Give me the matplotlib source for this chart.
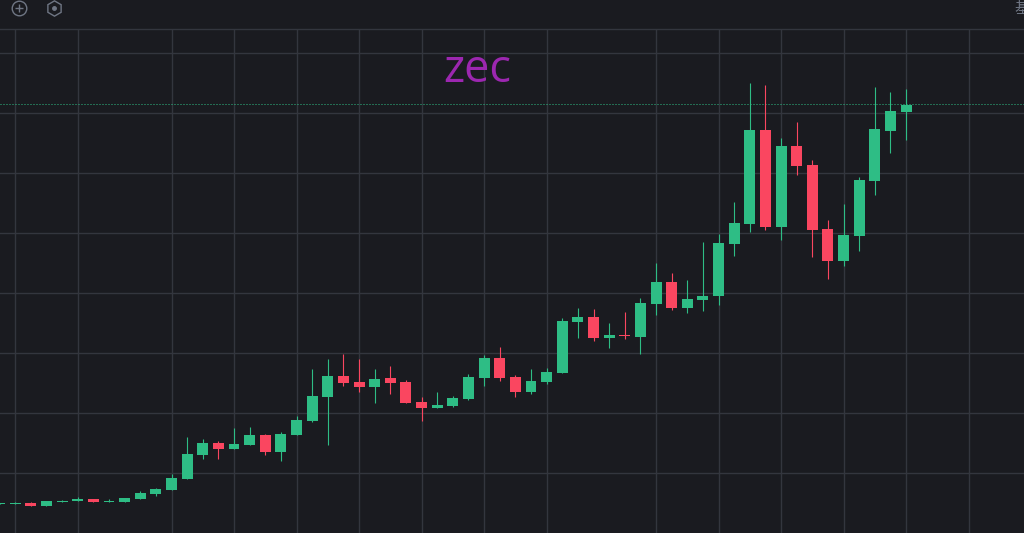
import matplotlib
matplotlib.use("Agg")
import matplotlib.pyplot as plt
import numpy as np

first_index = -1
opens = [29,29,30,27,31,32,34,31,31,34,39,43,54,78,90,84,88,98,81,98,112,136,157,151,146,155,151,131,125,127,134,155,175,156,141,151,160,211,216,195,198,196,229,251,225,233,237,289,309,403,306,387,368,304,272,297,352,402,421]
highs = [30,31,31,32,33,36,34,34,35,42,45,59,96,94,92,105,106,99,101,117,164,174,179,174,164,167,153,136,141,137,159,178,186,158,164,165,215,225,224,210,221,235,270,260,253,291,299,331,450,448,395,411,373,313,329,356,446,441,444]
lows = [29,29,27,27,31,32,31,31,31,34,37,43,54,74,74,84,88,78,72,98,111,88,147,141,130,139,130,112,125,126,133,147,152,136,139,149,160,195,192,185,194,179,218,223,220,222,228,277,301,303,293,358,276,254,267,282,338,380,393]
closes = [30,30,27,32,32,34,31,32,35,40,44,55,79,90,84,89,98,81,99,113,137,157,150,146,154,150,130,125,128,135,156,175,155,141,152,161,212,216,195,198,197,230,251,225,234,237,290,310,403,306,387,367,303,272,298,353,404,422,428]
x_grid = [0,4,10,14,18,22,26,30,34,41,45,49,53,57,61]
y_grid = [60,120,180,240,300,360,420,480]
title = "zec"
header_label = "基"

BG = "#1a1b20"
GRID = "#33363e"
UP = "#2ebd85"
DOWN = "#fa4660"
ICON = "#6f7684"

fig = plt.figure(figsize=(10.24, 5.33), dpi=100, facecolor=BG)
ax = fig.add_axes([0, 0, 1, 504/533], facecolor=BG)

idx = np.arange(first_index, first_index + len(opens))
o, h, l, c = map(np.array, (opens, highs, lows, closes))
colors = np.where(c >= o, UP, DOWN)

ax.vlines(idx, l, h, colors=colors, linewidth=0.8, zorder=3)
ax.bar(idx, np.abs(c - o), bottom=np.minimum(o, c), width=0.70, color=colors, linewidth=0, zorder=4)
ax.plot([-1, 65], [closes[-1] + 1, closes[-1] + 1], color=UP, linewidth=0.72, linestyle=(0, (1, 2)),
        dash_capstyle="butt", zorder=2.5)

ax.set_xlim(-15.2/15.63, (1024-15.2)/15.63)
ax.set_ylim(0, 504)
ax.set_xticks(x_grid)
ax.set_yticks(y_grid)
ax.grid(True, color=GRID, linewidth=1)
ax.set_axisbelow(True)
ax.tick_params(length=0, labelbottom=False, labelleft=False)
for name, s in ax.spines.items():
    s.set_visible(name == "top")
    s.set_color(GRID)
    s.set_linewidth(1)

ax.text(477/1024, (533-82)/504, title, transform=ax.transAxes, color="#9c27b0", fontsize=32.5,
        family="Open Sans", ha="center", va="baseline", zorder=5)

# header strip
hd = fig.add_axes([0, 504/533, 1, 29/533], facecolor=BG)
hd.set_xlim(0, 1024)
hd.set_ylim(29, 0)
hd.axis("off")
hd.plot([18.5], [8], marker="o", ms=10.5, mfc="none", mec=ICON, mew=1)
hd.plot([18.5], [8], marker="+", ms=6, mec=ICON, mew=1)
hd.plot([53.5], [8], marker="h", ms=11, mfc="none", mec=ICON, mew=1)
hd.plot([53.5], [8], marker="o", ms=2.5, mfc=ICON, mec=ICON)
hd.text(1014, 8, header_label, color=ICON, fontsize=11, family=["Noto Sans CJK SC", "DejaVu Sans"],
        ha="left", va="center", clip_on=False)

fig.savefig("out.png", dpi=100, facecolor=BG)
